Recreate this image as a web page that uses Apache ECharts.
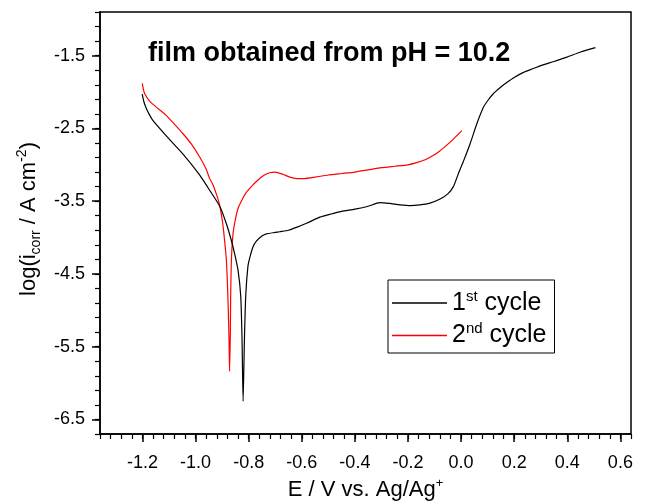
<!DOCTYPE html>
<html>
<head>
<meta charset="utf-8">
<script src="https://cdn.jsdelivr.net/npm/echarts@6/dist/echarts.min.js"></script>
<style>html,body{margin:0;padding:0;background:#fff}#c{width:646px;height:501px}</style>
</head>
<body>
<div id="c"></div>
<script>
// E / V vs. Ag/Ag+  and  log(i) for each cycle
const cycle1E = [-1.201,-1.195,-1.185,-1.174,-1.161,-1.111,-1.048,-0.985,-0.947,-0.909,-0.884,-0.866,-0.853,-0.840,-0.830,-0.825,-0.821,-0.816,-0.811,-0.803,-0.796,-0.784,-0.771,-0.750,-0.733,-0.700,-0.683,-0.650,-0.620,-0.580,-0.532,-0.494,-0.450,-0.400,-0.350,-0.306,-0.270,-0.230,-0.190,-0.155,-0.120,-0.079,-0.050,-0.029,-0.010,0.009,0.034,0.059,0.084,0.100,0.122,0.150,0.172,0.200,0.235,0.270,0.298,0.350,0.399,0.450,0.506];
const cycle1LogI = [-2.03,-2.13,-2.23,-2.31,-2.39,-2.60,-2.85,-3.14,-3.35,-3.57,-3.81,-4.03,-4.22,-4.45,-4.80,-5.40,-6.25,-5.40,-4.80,-4.40,-4.28,-4.13,-4.05,-3.98,-3.95,-3.93,-3.92,-3.90,-3.86,-3.80,-3.72,-3.68,-3.64,-3.61,-3.57,-3.52,-3.53,-3.55,-3.56,-3.55,-3.53,-3.47,-3.40,-3.30,-3.12,-2.95,-2.71,-2.44,-2.21,-2.12,-2.02,-1.93,-1.87,-1.80,-1.73,-1.68,-1.64,-1.58,-1.52,-1.45,-1.39];
const cycle2E = [-1.201,-1.196,-1.192,-1.174,-1.150,-1.111,-1.080,-1.048,-1.015,-0.985,-0.960,-0.947,-0.935,-0.920,-0.909,-0.898,-0.891,-0.884,-0.878,-0.874,-0.872,-0.869,-0.868,-0.865,-0.859,-0.850,-0.840,-0.825,-0.809,-0.790,-0.771,-0.745,-0.721,-0.700,-0.671,-0.645,-0.620,-0.590,-0.550,-0.500,-0.450,-0.400,-0.350,-0.300,-0.250,-0.200,-0.167,-0.135,-0.104,-0.080,-0.054,-0.030,0.003];
const cycle2LogI = [-1.88,-1.97,-2.02,-2.12,-2.20,-2.32,-2.44,-2.57,-2.72,-2.89,-3.06,-3.19,-3.27,-3.42,-3.56,-3.80,-4.03,-4.31,-4.85,-5.40,-5.84,-5.30,-4.85,-4.31,-3.95,-3.75,-3.60,-3.48,-3.38,-3.30,-3.23,-3.15,-3.11,-3.10,-3.13,-3.17,-3.19,-3.19,-3.17,-3.14,-3.12,-3.10,-3.07,-3.04,-3.02,-3.00,-2.97,-2.93,-2.87,-2.81,-2.73,-2.65,-2.53];
const xTickLabels = [-1.2,-1.0,-0.8,-0.6,-0.4,-0.2,0.0,0.2,0.4,0.6];
const yTickLabels = [-6.5,-5.5,-4.5,-3.5,-2.5,-1.5];
const seriesNames = ['1st cycle','2nd cycle'];

const X_MIN = -1.36, X_MAX = 0.64, Y_MIN = -6.7, Y_MAX = -0.9;
const xMinor = []; for (let k = 0; k <= 50; k++) xMinor.push(Math.round((X_MIN + k*0.04)*100)/100);
const yMinor = []; for (let k = 0; k <= 29; k++) yMinor.push(Math.round((Y_MIN + k*0.2)*10)/10);

const FONT = 'Liberation Sans, Arial, Helvetica, sans-serif';
const pairs = (a,b) => a.map((v,i)=>[v,b[i]]);

const chart = echarts.init(document.getElementById('c'), null, {renderer:'canvas'});
const axisCommon = {type:'value', min:X_MIN, max:X_MAX};
chart.setOption({
  animation:false,
  backgroundColor:'#fff',
  title:{text:'film obtained from pH = 10.2', left:148, top:40, padding:0,
    textStyle:{fontFamily:FONT, fontSize:27, fontWeight:'bold', color:'#000'}},
  grid:{left:100, right:15, top:12, bottom:67, containLabel:false, outerBoundsMode:'none',
    show:true, borderColor:'#000', borderWidth:1.5, backgroundColor:'transparent'},
  legend:{orient:'vertical', left:388, top:280, padding:[9,8,5,4], itemGap:6,
    itemWidth:55, itemHeight:1.5, icon:'rect', borderColor:'#000', borderWidth:1,
    data:seriesNames,
    formatter:function(n){ const p = n.split(' '); const num = p[0].replace(/[a-z]+/,''); const suf = p[0].replace(/[0-9]+/,''); return '{a|'+num+'}{s|'+suf+'}{a| '+p[1]+'}'; },
    textStyle:{fontFamily:FONT, color:'#000', rich:{
      a:{fontFamily:FONT, fontSize:25, lineHeight:28, color:'#000'},
      s:{fontFamily:FONT, fontSize:15, lineHeight:15, verticalAlign:'top', color:'#000'}}}},
  xAxis:[
    Object.assign({}, axisCommon, {position:'bottom',
      name:'{m|E / V vs. Ag/Ag}{p|+}', nameLocation:'middle', nameGap:41,
      nameTextStyle:{fontFamily:FONT, fontSize:22, color:'#000', rich:{
        m:{fontFamily:FONT, fontSize:22, lineHeight:26, color:'#000'},
        p:{fontFamily:FONT, fontSize:13, lineHeight:13, verticalAlign:'top', color:'#000'}}},
      axisLine:{show:true, onZero:false, lineStyle:{color:'#000', width:1.5}},
      axisTick:{show:true, length:8, customValues:xTickLabels, lineStyle:{color:'#000', width:1.5}},
      axisLabel:{customValues:xTickLabels, margin:20, fontFamily:FONT, fontSize:18, color:'#000',
        formatter:v=>v.toFixed(1)},
      splitLine:{show:false}}),
    Object.assign({}, axisCommon, {position:'bottom',
      axisLine:{show:false, onZero:false}, axisLabel:{show:false}, splitLine:{show:false},
      axisTick:{show:true, length:5, customValues:xMinor, lineStyle:{color:'#000', width:1.2}}})
  ],
  yAxis:[
    {type:'value', min:Y_MIN, max:Y_MAX, position:'left',
      name:'{m|log(i}{b|corr}{m| / A cm}{p|-2}{m|)}', nameLocation:'middle', nameGap:52, nameRotate:90,
      nameTextStyle:{fontFamily:FONT, fontSize:22, color:'#000', padding:[0,0,0,8], rich:{
        m:{fontFamily:FONT, fontSize:22, lineHeight:28, color:'#000'},
        b:{fontFamily:FONT, fontSize:14, lineHeight:14, verticalAlign:'bottom', color:'#000'},
        p:{fontFamily:FONT, fontSize:14, lineHeight:14, verticalAlign:'top', color:'#000'}}},
      axisLine:{show:true, onZero:false, lineStyle:{color:'#000', width:1.5}},
      axisTick:{show:true, length:8, customValues:yTickLabels, lineStyle:{color:'#000', width:1.5}},
      axisLabel:{customValues:yTickLabels, margin:15, fontFamily:FONT, fontSize:18, color:'#000',
        formatter:v=>v.toFixed(1)},
      splitLine:{show:false}},
    {type:'value', min:Y_MIN, max:Y_MAX, position:'left',
      axisLine:{show:false, onZero:false}, axisLabel:{show:false}, splitLine:{show:false},
      axisTick:{show:true, length:5, customValues:yMinor, lineStyle:{color:'#000', width:1.2}}}
  ],
  series:[
    {name:seriesNames[0], type:'line', data:pairs(cycle1E, cycle1LogI), xAxisIndex:0, yAxisIndex:0,
      symbol:'none', smooth:0.2, color:'#000', lineStyle:{color:'#000', width:1.2}, z:3},
    {name:seriesNames[1], type:'line', data:pairs(cycle2E, cycle2LogI), xAxisIndex:0, yAxisIndex:0,
      symbol:'none', smooth:0.2, color:'#ff0000', lineStyle:{color:'#ff0000', width:1.2}, z:2}
  ]
});
</script>
</body>
</html>
